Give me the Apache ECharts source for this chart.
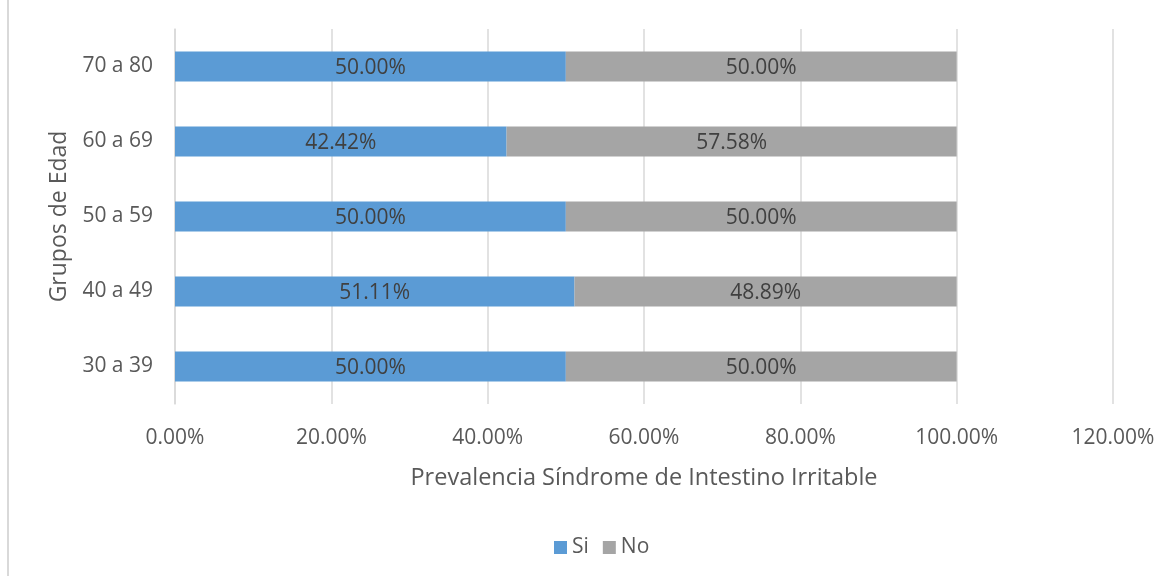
<!DOCTYPE html>
<html>
<head>
<meta charset="utf-8">
<script src="https://cdn.jsdelivr.net/npm/echarts@6/dist/echarts.min.js"></script>
<style>
  html, body { margin: 0; padding: 0; background: #fff; }
  #frame { position: absolute; left: 7px; top: 0; width: 1165px; height: 576px; border-left: 2px solid #d9d9d9; box-sizing: border-box; }
  #chart { position: absolute; left: 0; top: 0; width: 1172px; height: 576px; }
</style>
</head>
<body>
<div id="frame"></div>
<div id="chart"></div>
<script>
var categories = ['30 a 39', '40 a 49', '50 a 59', '60 a 69', '70 a 80']
var siValues = [50.00, 51.11, 50.00, 42.42, 50.00]
var noValues = [50.00, 48.89, 50.00, 57.58, 50.00]
var seriesNames = ['Si', 'No']

var font = '"Open Sans", "DejaVu Sans", sans-serif'
var textColor = '#595959'

var chart = echarts.init(document.getElementById('chart'))

function barLabel() {
  return {
    show: true,
    position: 'inside',
    offset: [0, 2],
    color: '#404040',
    fontSize: 21,
    fontFamily: font,
    formatter: function (p) { return p.value.toFixed(2) + '%' }
  }
}

var option = {
  animation: false,
  textStyle: { fontFamily: font },
  grid: { left: 175, right: 59, top: 29, bottom: 172 },
  legend: {
    data: seriesNames,
    bottom: 13,
    left: 549,
    itemWidth: 13,
    itemHeight: 13,
    itemGap: 14,
    icon: 'rect',
    textStyle: { color: textColor, fontSize: 21, fontFamily: font }
  },
  xAxis: {
    type: 'value',
    min: 0,
    max: 120,
    interval: 20,
    name: 'Prevalencia Síndrome de Intestino Irritable',
    nameLocation: 'middle',
    nameGap: 62,
    nameTextStyle: { color: textColor, fontSize: 23.5, fontFamily: font },
    axisLine: { show: false },
    axisTick: { show: false },
    axisLabel: {
      color: textColor,
      fontSize: 21,
      margin: 24,
      formatter: function (v) { return v.toFixed(2) + '%' }
    },
    splitLine: { show: true, lineStyle: { color: '#d9d9d9', width: 1.5 } }
  },
  yAxis: {
    type: 'category',
    data: categories,
    name: 'Grupos de Edad',
    nameLocation: 'middle',
    nameGap: 104,
    nameRotate: 90,
    nameTextStyle: { color: textColor, fontSize: 23, fontFamily: font },
    axisLine: { show: true, lineStyle: { color: '#d9d9d9', width: 1.5 } },
    axisTick: { show: false },
    axisLabel: { color: textColor, fontSize: 21, margin: 22 }
  },
  series: [
    {
      name: seriesNames[0],
      type: 'bar',
      stack: 'total',
      barWidth: '40%',
      data: siValues,
      itemStyle: { color: '#5b9bd5' },
      label: barLabel()
    },
    {
      name: seriesNames[1],
      type: 'bar',
      stack: 'total',
      barWidth: '40%',
      data: noValues,
      itemStyle: { color: '#a5a5a5' },
      label: barLabel()
    }
  ]
}

chart.setOption(option)
</script>
</body>
</html>
